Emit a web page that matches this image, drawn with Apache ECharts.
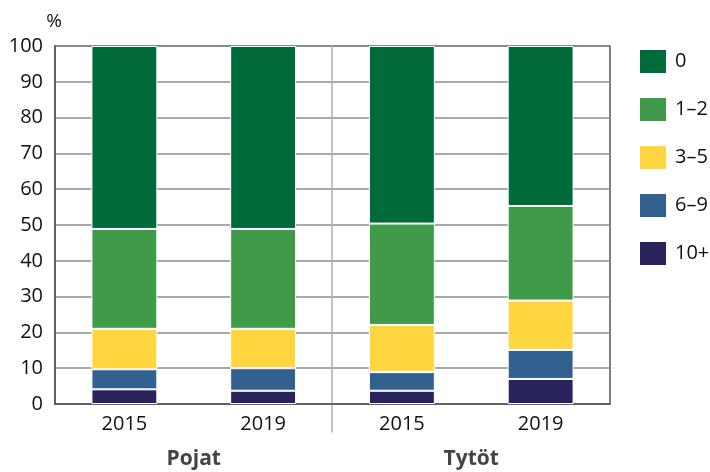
<!DOCTYPE html>
<html lang="fi" style="height: 100%">
<head>
  <meta charset="utf-8">
</head>
<body style="height: 100%; margin: 0">
  <div id="container" style="height: 100%"></div>

  <script type="text/javascript" src="https://cdn.jsdelivr.net/npm/echarts@6/dist/echarts.min.js"></script>

  <script type="text/javascript">
    var dom = document.getElementById('container');
    var myChart = echarts.init(dom, null, { renderer: 'canvas' });

    // data (%)
    var years = ['2015', '2019', '2015', '2019'];
    var groups = ['Pojat', 'Tytöt'];
    var classes = ['0', '1–2', '3–5', '6–9', '10+'];
    var v0 = [51.1, 51.1, 49.6, 44.7];
    var v12 = [27.9, 27.9, 28.3, 26.4];
    var v35 = [11.3, 11.0, 13.2, 13.8];
    var v69 = [5.6, 6.3, 5.2, 8.1];
    var v10 = [4.1, 3.7, 3.7, 7.0];

    var colors = {
      '0': '#006b3a',
      '1–2': '#3f9a4a',
      '3–5': '#ffd640',
      '6–9': '#33618f',
      '10+': '#29245b'
    };

    var font = 'Open Sans';

    function bar(name, values) {
      return {
        name: name,
        type: 'bar',
        stack: 'all',
        barWidth: '47.5%',
        xAxisIndex: 0,
        yAxisIndex: 0,
        data: values,
        itemStyle: { color: colors[name], borderColor: '#fff', borderWidth: 1 }
      };
    }

    var option = {
      animation: false,
      textStyle: { fontFamily: font },
      grid: [
        {
          left: 55, right: 100, top: 46, bottom: 68,
          show: true, borderColor: '#555', borderWidth: 1.5, backgroundColor: 'transparent'
        },
        // thin helper grid: its y axis line is the Pojat / Tytöt separator
        { left: 332, width: 1, top: 46, bottom: 40 }
      ],
      legend: {
        orient: 'vertical',
        left: 633,
        top: 43,
        itemWidth: 28,
        itemHeight: 25,
        itemGap: 21,
        icon: 'rect',
        data: classes,
        textStyle: { fontSize: 20, color: '#111', fontFamily: font, padding: [0, 0, 0, 3] }
      },
      xAxis: [
        {
          type: 'category',
          gridIndex: 0,
          data: years,
          position: 'bottom',
          axisLine: { show: true, lineStyle: { color: '#555', width: 1.5 } },
          axisTick: { show: false },
          axisLabel: { fontSize: 20, color: '#111', margin: 10 }
        },
        {
          type: 'category',
          gridIndex: 0,
          data: groups,
          position: 'bottom',
          axisLine: { show: false },
          axisTick: { show: false },
          splitLine: { show: false },
          axisLabel: { fontSize: 21, fontWeight: 'bold', color: '#444', margin: 45 }
        },
        { type: 'value', gridIndex: 1, show: false }
      ],
      yAxis: [
        {
          type: 'value',
          gridIndex: 0,
          min: 0,
          max: 100,
          interval: 10,
          name: '%',
          nameLocation: 'end',
          nameGap: 15,
          nameTextStyle: { fontSize: 19, color: '#111', padding: [0, 2, 0, 0] },
          axisLine: { show: true, lineStyle: { color: '#555', width: 1.5 } },
          axisTick: { show: false },
          axisLabel: { fontSize: 20, color: '#111', margin: 12 },
          splitLine: { lineStyle: { color: '#8c8c8c', width: 1.5 } }
        },
        {
          type: 'value',
          gridIndex: 1,
          axisLine: { show: true, lineStyle: { color: '#b0b0b0', width: 1.5 } },
          axisTick: { show: false },
          axisLabel: { show: false },
          splitLine: { show: false }
        }
      ],
      series: [
        bar('10+', v10),
        bar('6–9', v69),
        bar('3–5', v35),
        bar('1–2', v12),
        bar('0', v0)
      ]
    };

    myChart.setOption(option);
    window.addEventListener('resize', myChart.resize);
  </script>
</body>
</html>
